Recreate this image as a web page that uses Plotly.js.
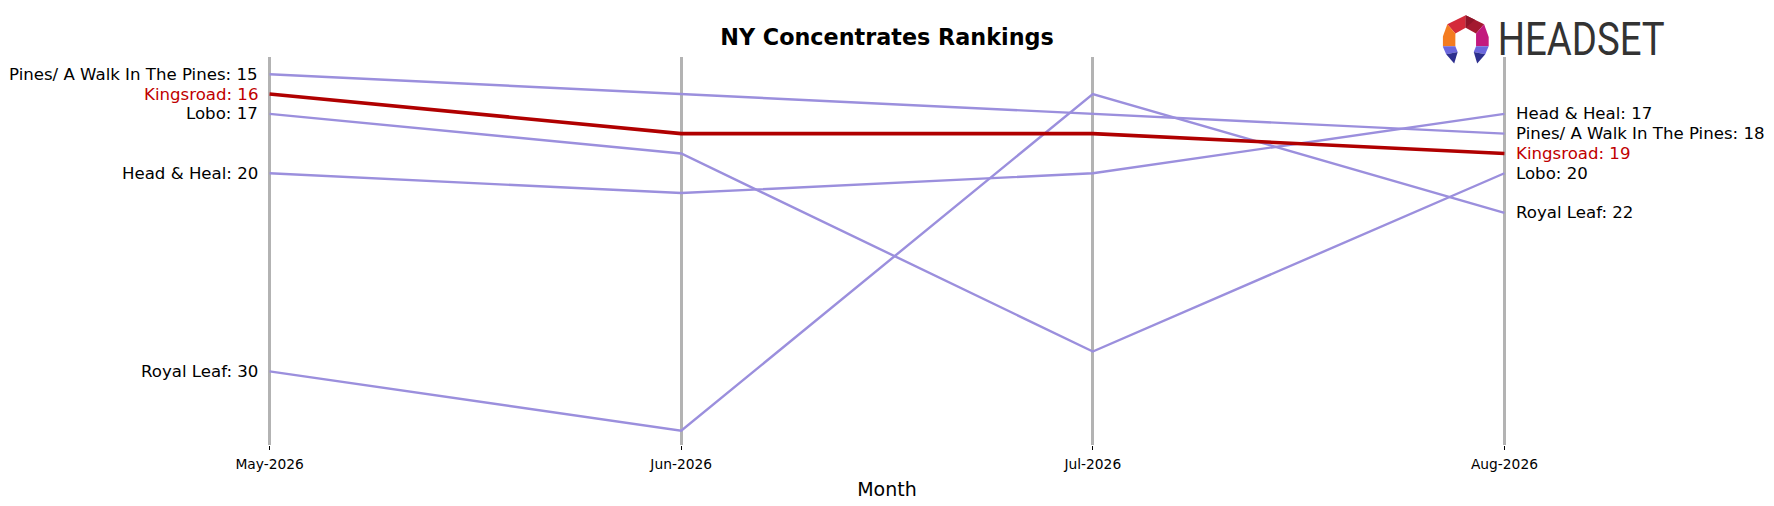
<!DOCTYPE html>
<html>
<head>
<meta charset="utf-8">
<script src="https://cdn.plot.ly/plotly-3.0.1.min.js"></script>
<style>html,body{margin:0;padding:0;background:#fff;}#chart{width:1774px;height:506px;}</style>
</head>
<body>
<div id="chart"></div>
<script>
const months = ["May-2026", "Jun-2026", "Jul-2026", "Aug-2026"];
const brands = ["Pines/ A Walk In The Pines", "Kingsroad", "Lobo", "Head & Heal", "Royal Leaf"];
const pinesRanks = [15, 16, 17, 18];
const kingsroadRanks = [16, 18, 18, 19];
const loboRanks = [17, 19, 29, 20];
const headHealRanks = [20, 21, 20, 17];
const royalLeafRanks = [30, 33, 16, 22];
const highlight = "Kingsroad";

const series = [pinesRanks, kingsroadRanks, loboRanks, headHealRanks, royalLeafRanks];
const FONT = "DejaVu Sans, Verdana, sans-serif";
const PURPLE = "rgb(155,143,221)";
const RED = "#b00000";
const xIdx = months.map((m, i) => i);

const traces = brands.map((b, k) => ({
  x: xIdx, y: series[k], mode: "lines", type: "scatter", name: b,
  line: {color: b === highlight ? RED : PURPLE, width: b === highlight ? 3.6 : 2.4},
  hoverinfo: "skip", showlegend: false
}));
traces.sort((a, b) => (a.name === highlight) - (b.name === highlight));

const annotations = [];
brands.forEach((b, k) => {
  const col = b === highlight ? "#c00000" : "#000000";
  const last = months.length - 1;
  annotations.push({x: 0, y: series[k][0], xref: "x", yref: "y", text: b + ": " + series[k][0],
    showarrow: false, xanchor: "right", yanchor: "middle", xshift: -10,
    font: {family: FONT, size: 16.6, color: col}});
  annotations.push({x: last, y: series[k][last], xref: "x", yref: "y", text: b + ": " + series[k][last],
    showarrow: false, xanchor: "left", yanchor: "middle", xshift: 10,
    font: {family: FONT, size: 16.6, color: col}});
});

const logoSvg = `<svg xmlns="http://www.w3.org/2000/svg" width="240" height="56" viewBox="0 0 240 56">
<g transform="translate(0,1) scale(1.15)">
<polygon points="4,9 20,1 20,12 11,17" fill="#d42a3a"/>
<polygon points="20,1 36,9 29,17 20,12" fill="#a3192f"/>
<polygon points="20,1 28,5 20,12" fill="#8e1428"/>
<polygon points="4,9 11,17 11,28 0,28 0,20" fill="#f47c20"/>
<polygon points="36,9 40,20 40,28 29,28 29,17" fill="#c3197e"/>
<polygon points="0,28 11,28 13,33 3,35" fill="#6b67dd"/>
<polygon points="40,28 29,28 27,33 37,35" fill="#6b67dd"/>
<polygon points="3,35 13,33 10,43" fill="#2d2f8e"/>
<polygon points="37,35 27,33 30,43" fill="#2d2f8e"/>
</g>
<text x="55" y="42" font-family="Roboto, DejaVu Sans, sans-serif" font-size="46" fill="#333333" textLength="167" lengthAdjust="spacingAndGlyphs">HEADSET</text>
</svg>`;

const W = 1774, ML = 249.4, MR = 248.7, MT = 57, MB = 61;
const PW = W - ML - MR, PH = 506 - MT - MB;

const layout = {
  width: 1774, height: 506,
  paper_bgcolor: "#ffffff", plot_bgcolor: "#ffffff",
  margin: {l: ML, r: MR, t: MT, b: MB, pad: 0},
  title: {text: "<b>NY Concentrates Rankings</b>", x: 0.5, xanchor: "center", y: 0.927, yanchor: "middle",
    font: {family: FONT, size: 22.3, color: "#000"}},
  xaxis: {
    range: [-0.05, months.length - 1 + 0.05], tickvals: xIdx, ticktext: months,
    showgrid: true, gridcolor: "#b3b3b3", gridwidth: 3, zeroline: false, showline: false,
    ticks: "outside", ticklen: 4, tickcolor: "#000", tickwidth: 1, ticklabelstandoff: 2,
    tickfont: {family: FONT, size: 13.8, color: "#000"},
    title: {text: "Month", font: {family: FONT, size: 19, color: "#000"}, standoff: 12}
  },
  yaxis: {range: [33.72, 14.13], visible: false, showgrid: false, zeroline: false},
  annotations: annotations,
  images: [{source: "data:image/svg+xml;charset=utf-8," + encodeURIComponent(logoSvg),
    xref: "paper", yref: "paper", x: (1443 - ML) / PW, y: 1 + (MT - 13) / PH,
    sizex: 240 / PW, sizey: 56 / PH, xanchor: "left", yanchor: "top", layer: "above"}],
  showlegend: false
};

Plotly.newPlot("chart", traces, layout, {displayModeBar: false, staticPlot: true});
</script>
</body>
</html>
